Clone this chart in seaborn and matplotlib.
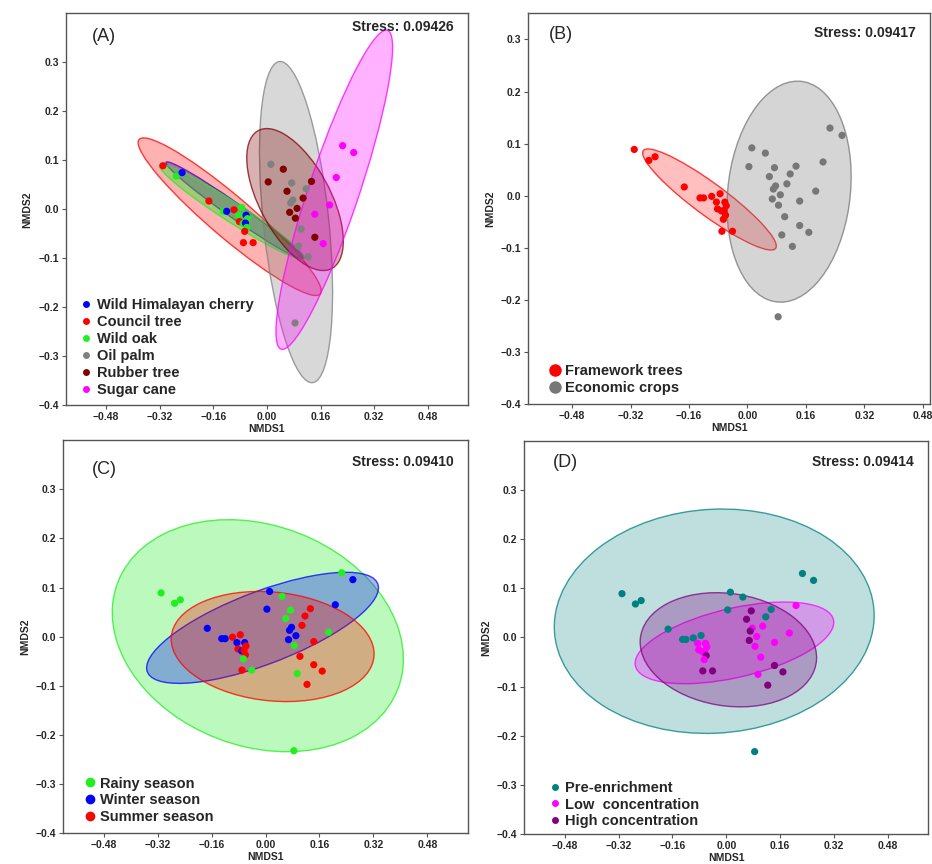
import numpy as np
import pandas as pd
import matplotlib
matplotlib.use('Agg')
import matplotlib.pyplot as plt
import seaborn as sns
from matplotlib.patches import Ellipse
from matplotlib.lines import Line2D
from matplotlib.colors import to_rgba

# NMDS scores (same samples in every panel)
nmds1 = [0.012, 0.074, 0.117, 0.077, 0.071, 0.102, 0.094, 0.123, 0.084,
         0.004, 0.049, 0.060, 0.133, 0.108, 0.068, 0.090, 0.085, 0.143,
         0.226, 0.259, 0.207, 0.187, 0.143, 0.168,
         -0.310, -0.270, -0.253, -0.173, -0.130, -0.120, -0.098, -0.075, -0.085,
         -0.062, -0.058, -0.082, -0.071, -0.064, -0.060, -0.066, -0.070, -0.041]
nmds2 = [0.092, 0.054, 0.042, 0.019, 0.013, -0.040, -0.075, -0.097, -0.232,
         0.056, 0.082, 0.037, 0.057, 0.023, -0.006, 0.002, -0.018, -0.057,
         0.130, 0.116, 0.065, 0.009, -0.010, -0.070,
         0.089, 0.068, 0.075, 0.017, -0.004, -0.004, -0.001, 0.004, -0.012,
         -0.012, -0.019, -0.025, -0.029, -0.028, -0.037, -0.045, -0.068, -0.068]
plant = ['Oil palm'] * 9 + ['Rubber tree'] * 9 + ['Sugar cane'] * 6 + \
    ['Council tree', 'Wild oak', 'Wild Himalayan cherry', 'Council tree', 'Wild oak',
     'Wild Himalayan cherry', 'Council tree', 'Wild oak', 'Wild oak',
     'Wild Himalayan cherry', 'Wild oak', 'Council tree', 'Wild oak',
     'Wild Himalayan cherry', 'Wild oak', 'Council tree', 'Council tree', 'Council tree']
season = ['W', 'R', 'S', 'W', 'W', 'S', 'R', 'S', 'R',
          'W', 'R', 'R', 'S', 'S', 'W', 'W', 'R', 'S',
          'R', 'W', 'W', 'R', 'S', 'S',
          'R', 'R', 'R', 'W', 'W', 'W', 'S', 'S', 'W',
          'W', 'S', 'S', 'W', 'S', 'S', 'R', 'S', 'R']
conc = ['P', 'H', 'P', 'L', 'H', 'L', 'L', 'H', 'P',
        'P', 'P', 'H', 'P', 'L', 'H', 'L', 'L', 'H',
        'P', 'P', 'L', 'L', 'L', 'H',
        'P', 'P', 'P', 'P', 'P', 'P', 'P', 'P', 'L',
        'L', 'L', 'L', 'L', 'L', 'H', 'L', 'H', 'H']

plant_order = ['Wild Himalayan cherry', 'Council tree', 'Wild oak', 'Oil palm', 'Rubber tree', 'Sugar cane']
type_order = ['Framework trees', 'Economic crops']
season_order = ['Rainy season', 'Winter season', 'Summer season']
conc_order = ['Pre-enrichment', 'Low  concentration', 'High concentration']
stress = ['0.09426', '0.09417', '0.09410', '0.09414']

# ellipses: centre x, centre y, half-width, half-height, tilt (r)
ell_plant = [(-0.097, -0.002, 0.204, 0.099, -0.982),
             (-0.111, -0.015, 0.273, 0.161, -0.94),
             (-0.105, -0.005, 0.216, 0.097, -0.969),
             (0.087, -0.026, 0.109, 0.328, -0.434),
             (0.084, 0.020, 0.144, 0.145, -0.586),
             (0.201, 0.040, 0.174, 0.326, 0.89)]
ell_type = [(-0.104, -0.007, 0.183, 0.097, -0.92),
            (0.114, 0.008, 0.170, 0.212, 0.135)]
ell_season = [(-0.023, 0.002, 0.432, 0.236, -0.20),
              (-0.009, 0.018, 0.344, 0.113, 0.72),
              (0.021, -0.020, 0.301, 0.112, -0.135)]
ell_conc = [(-0.036, 0.033, 0.475, 0.228, 0.05),
            (0.024, -0.011, 0.295, 0.083, 0.5),
            (0.006, -0.025, 0.262, 0.116, -0.136)]

df = pd.DataFrame({'NMDS1': nmds1, 'NMDS2': nmds2, 'plant': plant})
df['type'] = np.where(df['plant'].isin(plant_order[:3]), 'Framework trees', 'Economic crops')
df['season'] = pd.Series(season).map({'R': 'Rainy season', 'W': 'Winter season', 'S': 'Summer season'})
df['conc'] = pd.Series(conc).map({'P': 'Pre-enrichment', 'L': 'Low  concentration', 'H': 'High concentration'})

sns.set_theme(style='white')
plt.rcParams['font.family'] = ['Liberation Sans', 'DejaVu Sans']

fig = plt.figure(figsize=(9.32, 8.64), dpi=100)


def panel(rect, col, order, colors, ell, alphas, tag, st, tag_pos, st_y, leg_pos,
          ylim_top=0.4, xlim_right=0.6, msize=5):
    ax = fig.add_axes(rect)
    for (cx, cy, w, h, r), c, a in zip(ell, colors, alphas):
        cov = np.array([[w * w, r * w * h], [r * w * h, h * h]])
        vals, vecs = np.linalg.eigh(cov)
        ang = np.degrees(np.arctan2(vecs[1, 1], vecs[0, 1]))
        ax.add_patch(Ellipse((cx, cy), 2 * np.sqrt(vals[1]), 2 * np.sqrt(vals[0]), angle=ang,
                             facecolor=to_rgba(c, a), edgecolor=to_rgba(c, 0.75), lw=1))
    sns.scatterplot(data=df, x='NMDS1', y='NMDS2', hue=col, hue_order=order,
                    palette=dict(zip(order, colors)), s=27, edgecolor='none',
                    ax=ax, legend=False, zorder=3)
    ax.set_xlim(-0.6, xlim_right)
    ax.set_ylim(-0.4, ylim_top)
    xt = np.round(np.arange(-0.48, 0.49, 0.16), 2) + 0.0
    yt = np.round(np.arange(-0.4, 0.31, 0.1), 1) + 0.0
    ax.set_xticks(xt)
    ax.set_xticklabels([f'{v:.2f}'.replace('-', '\u2212') for v in xt])
    ax.set_yticks(yt)
    ax.set_yticklabels([f'{v:.1f}'.replace('-', '\u2212') for v in yt])
    ax.tick_params(direction='out', length=3, width=0.8, color='#555555', labelsize=7.5, pad=2,
                   bottom=True, left=True)
    for t in ax.get_xticklabels() + ax.get_yticklabels():
        t.set_fontweight('bold')
    for s in ax.spines.values():
        s.set_color('#555555')
        s.set_linewidth(1)
    ax.set_xlabel('NMDS1', fontsize=7.5, fontweight='bold', labelpad=1)
    ax.set_ylabel('NMDS2', fontsize=7.5, fontweight='bold', labelpad=4)
    ax.text(tag_pos[0], tag_pos[1], tag, transform=ax.transAxes, fontsize=13, va='center', ha='left')
    ax.text(0.965, st_y, 'Stress: ' + st, transform=ax.transAxes, fontsize=10,
            fontweight='bold', va='center', ha='right')
    handles = [Line2D([], [], marker='o', ls='', color=c, markersize=msize, markeredgewidth=0) for c in colors]
    ax.legend(handles, order, loc='lower left', bbox_to_anchor=leg_pos, frameon=False,
              prop={'weight': 'bold', 'size': 10.5}, handletextpad=0.1, labelspacing=0.2,
              borderaxespad=0, handlelength=1.2)
    return ax


panel([0.0705, 0.531, 0.4317, 0.4534], 'plant', plant_order,
      ['#0000ff', '#ff0000', '#22ee22', '#808080', '#800000', '#ff00ff'],
      ell_plant, [0.4, 0.3, 0.4, 0.3, 0.3, 0.3], '(A)', stress[0],
      (0.065, 0.94), 0.965, (0.015, 0.006))
panel([0.5669, 0.532, 0.431, 0.4525], 'type', type_order,
      ['#ff0000', '#777777'], ell_type, [0.25, 0.3], '(B)', stress[1],
      (0.05, 0.945), 0.95, (0.03, 0.01), ylim_top=0.35, xlim_right=0.5, msize=9)
panel([0.068, 0.0355, 0.4339, 0.4552], 'season', season_order,
      ['#22ee22', '#0000ff', '#ff0000'], ell_season, [0.3, 0.3, 0.3], '(C)', stress[2],
      (0.07, 0.925), 0.943, (0.03, 0.008), msize=7)
panel([0.5626, 0.0344, 0.4335, 0.4556], 'conc', conc_order,
      ['#008080', '#ff00ff', '#800080'], ell_conc, [0.25, 0.3, 0.3], '(D)', stress[3],
      (0.07, 0.945), 0.945, (0.04, 0.0))

fig.savefig('out.png', dpi=100, facecolor='white')
